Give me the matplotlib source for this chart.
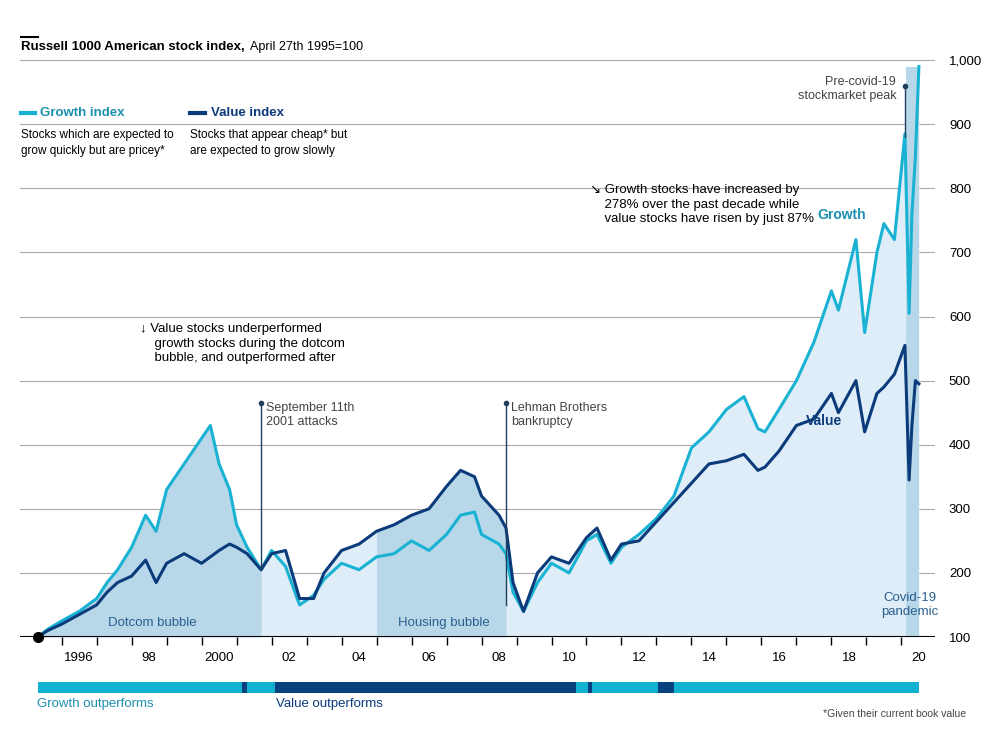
import matplotlib.pyplot as plt
import matplotlib.transforms as mtransforms
import numpy as np

plt.rcParams['font.family'] = ['Liberation Sans', 'DejaVu Sans']

# Values (decimal year, index level)
years = [1995.32, 1995.6, 1996.0, 1996.5, 1997.0, 1997.3, 1997.6, 1998.0, 1998.4, 1998.7, 1999.0,
         1999.5, 2000.0, 2000.25, 2000.5, 2000.8, 2001.0, 2001.3, 2001.7, 2002.0, 2002.4, 2002.8,
         2003.2, 2003.5, 2004.0, 2004.5, 2005.0, 2005.5, 2006.0, 2006.5, 2007.0, 2007.4, 2007.8,
         2008.0, 2008.5, 2008.7, 2008.9, 2009.2, 2009.6, 2010.0, 2010.5, 2011.0, 2011.3, 2011.7,
         2012.0, 2012.5, 2013.0, 2013.5, 2014.0, 2014.5, 2015.0, 2015.5, 2015.9, 2016.1, 2016.5,
         2017.0, 2017.5, 2018.0, 2018.2, 2018.7, 2018.95, 2019.3, 2019.5, 2019.8, 2020.1, 2020.22,
         2020.3, 2020.4, 2020.5]
growth = [100, 112, 125, 140, 160, 185, 205, 240, 290, 265, 330,
          370, 410, 430, 370, 330, 275, 240, 205, 235, 210, 150,
          165, 190, 215, 205, 225, 230, 250, 235, 260, 290, 295,
          260, 245, 230, 170, 140, 185, 215, 200, 250, 260, 215,
          240, 260, 285, 320, 395, 420, 455, 475, 425, 420, 455,
          500, 560, 640, 610, 720, 575, 700, 745, 720, 885, 605,
          760, 850, 990]
value = [100, 110, 120, 135, 150, 170, 185, 195, 220, 185, 215,
         230, 215, 225, 235, 245, 240, 230, 205, 230, 235, 160,
         160, 200, 235, 245, 265, 275, 290, 300, 335, 360, 350,
         320, 290, 270, 185, 140, 200, 225, 215, 255, 270, 220,
         245, 250, 280, 310, 340, 370, 375, 385, 360, 365, 390,
         430, 440, 480, 450, 500, 420, 480, 490, 510, 555, 345,
         430, 500, 495]

y_ticks = [100, 200, 300, 400, 500, 600, 700, 800, 900, 1000]
x_tick_years = list(range(1996, 2021))
x_labels = ['1996', '98', '2000', '02', '04', '06', '08', '10', '12', '14', '16', '18', '20']
bubbles = [(1995.32, 2001.69, 'Dotcom bubble'), (2004.93, 2008.71, 'Housing bubble'), (2020.13, 2020.5, '')]
value_periods = [(2001.15, 2001.3), (2002.1, 2010.7), (2011.05, 2011.15), (2013.05, 2013.5)]

GROWTH = '#19b2d3'
VALUE = '#0b3b7a'
LIGHT = '#deedf7'
SHADE = '#b8d8ea'
FS = 9

fig = plt.figure(figsize=(9.91, 7.43), dpi=100)
ax = fig.add_axes([20/991, 106/743, 915/991, 582/743])
x = np.array(years)
top = np.maximum(growth, value)
ax.fill_between(x, 100, top, color=LIGHT, lw=0)
for a, b, name in bubbles:
    if name == '':
        ax.axvspan(a, b, ymin=0, ymax=(990-100)/(1008-100), color=SHADE, lw=0)
    else:
        m = (x >= a - 0.01) & (x <= b + 0.01)
        ax.fill_between(x, 100, top, where=m, color=SHADE, lw=0)
        ax.text((a + b) / 2 + 0.1, 113, name, ha='center', va='bottom', color='#2a5f8f', fontsize=FS + 0.5)

for yv in y_ticks[1:]:
    ax.axhline(yv, color='#aaaaaa', lw=0.8, zorder=0)
ax.plot(x, growth, color=GROWTH, lw=2.2)
ax.plot(x, value, color=VALUE, lw=2.2)
ax.axhline(100, color='black', lw=1.5)
ax.plot([1995.32], [100], 'o', color='black', ms=7, clip_on=False, zorder=5)

ax.set_xlim(1994.81, 2020.96)
ax.set_ylim(100, 1008)
for s in ax.spines.values():
    s.set_visible(False)
ax.yaxis.tick_right()
ax.set_yticks(y_ticks)
ax.set_yticklabels(['{:,}'.format(v) for v in y_ticks], fontsize=FS + 0.5)
ax.tick_params(axis='y', length=0, pad=10)
ax.set_xticks(x_tick_years)
ax.set_xticklabels([])
ax.tick_params(axis='x', length=6, width=1, direction='out')
lab_tr = ax.get_xaxis_transform() + mtransforms.ScaledTranslation(0, -0.15, fig.dpi_scale_trans)
for i, lab in enumerate(x_labels):
    ax.text(1996.5 + 2 * i, 0, lab, transform=lab_tr, ha='center', va='top', fontsize=FS + 0.5)

# annotations
ax.plot([2001.69, 2001.69], [205, 465], color='#1f3f5f', lw=1)
ax.plot([2001.69], [465], 'o', color='#1f3f5f', ms=3)
ax.text(2001.85, 467, 'September 11th\n2001 attacks', va='top', fontsize=FS, color='#444444', linespacing=1.2)
ax.plot([2008.71], [465], 'o', color='#1f3f5f', ms=3)
ax.plot([2008.71, 2008.71], [150, 465], color='#1f3f5f', lw=1)
ax.text(2008.85, 467, 'Lehman Brothers\nbankruptcy', va='top', fontsize=FS, color='#444444', linespacing=1.2)
ax.plot([2020.1, 2020.1], [880, 960], color='#1f3f5f', lw=1)
ax.plot([2020.1], [960], 'o', color='#1f3f5f', ms=3)
ax.text(2019.85, 975, 'Pre-covid-19\nstockmarket peak', ha='right', va='top', fontsize=FS, color='#444444', linespacing=1.2)
ax.text(2020.25, 150, 'Covid-19\npandemic', ha='center', va='center', fontsize=FS + 0.5, color='#2a5f8f', linespacing=1.2)
ax.text(2018.3, 752, 'Growth', ha='center', fontsize=FS + 1, color='#1a8fb0', fontweight='bold')
ax.text(2017.8, 430, 'Value', ha='center', fontsize=FS + 1, color=VALUE, fontweight='bold')
ax.text(1998.25, 590, '\u2193 Value stocks underperformed\n    growth stocks during the dotcom\n    bubble, and outperformed after',
        va='top', fontsize=FS + 0.5, linespacing=1.3)
ax.text(2011.1, 807, '\u2198 Growth stocks have increased by\n    278% over the past decade while\n    value stocks have risen by just 87%',
        va='top', fontsize=FS + 0.5, linespacing=1.3)

# legend texts
fig.add_artist(plt.Line2D([21/991, 35/991], [1 - 113/743] * 2, color=GROWTH, lw=3))
fig.text(40/991, 1 - 113/743, 'Growth index', color='#1a8fb0', fontweight='bold', fontsize=FS + 0.5, va='center')
fig.text(21/991, 1 - 143/743, 'Stocks which are expected to\ngrow quickly but are pricey*', fontsize=FS - 0.5, va='center', linespacing=1.5)
fig.add_artist(plt.Line2D([190/991, 205/991], [1 - 113/743] * 2, color=VALUE, lw=3))
fig.text(211/991, 1 - 113/743, 'Value index', color=VALUE, fontweight='bold', fontsize=FS + 0.5, va='center')
fig.text(190/991, 1 - 143/743, 'Stocks that appear cheap* but\nare expected to grow slowly', fontsize=FS - 0.5, va='center', linespacing=1.5)

# title
fig.add_artist(plt.Line2D([21/991, 38/991], [1 - 37/743] * 2, color='black', lw=1.5))
fig.text(21/991, 1 - 47/743, 'Russell 1000 American stock index,', fontweight='bold', fontsize=FS + 0.5, va='center')
fig.text(250/991, 1 - 47/743, 'April 27th 1995=100', fontsize=FS, va='center')

# outperformance bar
bx = fig.add_axes([20/991, 1 - 693/743, 915/991, 11/743])
bx.set_xlim(1994.81, 2020.96)
bx.set_ylim(0, 1)
bx.axvspan(1995.32, 2020.5, color='#11b1d2', lw=0)
for a, b in value_periods:
    bx.axvspan(a, b, color='#07427f', lw=0)
bx.axis('off')
fig.text(37/991, 1 - 704/743, 'Growth outperforms', color='#1a8fb0', fontsize=FS + 0.5, va='center')
fig.text(276/991, 1 - 704/743, 'Value outperforms', color=VALUE, fontsize=FS + 0.5, va='center')
fig.text(966/991, 1 - 714/743, '*Given their current book value', color='#444444', fontsize=FS - 1.5, ha='right', va='center')

fig.savefig('out.png', dpi=100)
